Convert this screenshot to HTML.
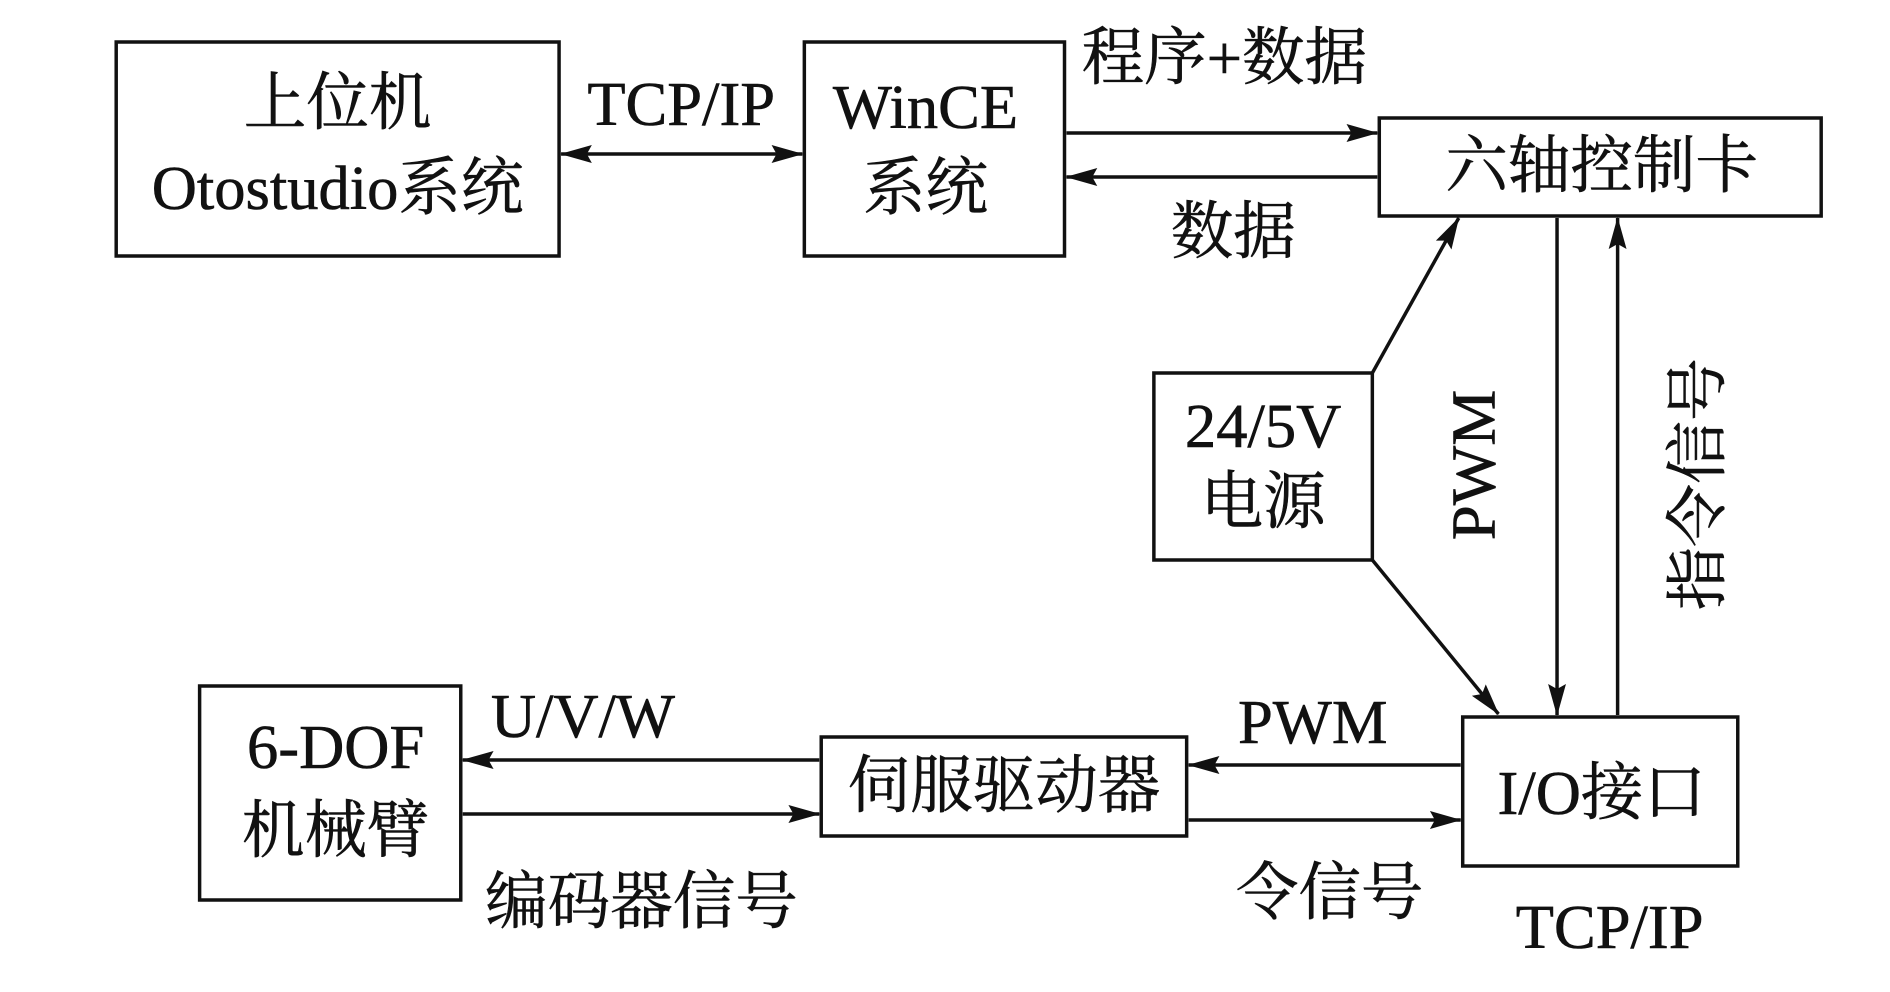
<!DOCTYPE html>
<html><head><meta charset="utf-8"><style>
html,body{margin:0;padding:0;background:#fff;}
svg{display:block;}
text{font-family:"Liberation Serif","Noto Serif CJK SC",serif;font-size:63px;fill:#111;stroke:#111;stroke-width:0.6px;}
</style></head><body>
<svg width="1890" height="992" viewBox="0 0 1890 992" xmlns="http://www.w3.org/2000/svg">
<defs>
<marker id="b" viewBox="0 0 32 18" refX="31" refY="9" markerWidth="32" markerHeight="18" orient="auto-start-reverse" markerUnits="userSpaceOnUse">
<path d="M0,0 L32,9 L0,18 L5,9 z" fill="#111"/>
</marker>
</defs>
<g transform="translate(2,0) scale(0.993,1)">
<g fill="none" stroke="#111" stroke-width="3.5">
<rect x="115" y="42" width="446" height="214"/>
<rect x="808" y="42" width="262" height="214"/>
<rect x="1387" y="118" width="445" height="98"/>
<rect x="1160" y="373" width="220" height="187"/>
<rect x="1471" y="717" width="277" height="149"/>
<rect x="825" y="737" width="368" height="99"/>
<rect x="199" y="686" width="263" height="214"/>
</g>
<g stroke="#111" stroke-width="3.5" fill="none">
<line x1="563" y1="154" x2="806" y2="154" marker-start="url(#b)" marker-end="url(#b)"/>
<line x1="1072" y1="133" x2="1385" y2="133" marker-end="url(#b)"/>
<line x1="1385" y1="177" x2="1072" y2="177" marker-end="url(#b)"/>
<line x1="1380" y1="373" x2="1467" y2="218" marker-end="url(#b)"/>
<line x1="1380" y1="560" x2="1507" y2="714" marker-end="url(#b)"/>
<line x1="1566" y1="218" x2="1566" y2="715" marker-end="url(#b)"/>
<line x1="1627" y1="715" x2="1627" y2="218" marker-end="url(#b)"/>
<line x1="1469" y1="765" x2="1195" y2="765" marker-end="url(#b)"/>
<line x1="1195" y1="820" x2="1469" y2="820" marker-end="url(#b)"/>
<line x1="823" y1="760" x2="464" y2="760" marker-end="url(#b)"/>
<line x1="464" y1="814" x2="823" y2="814" marker-end="url(#b)"/>
</g>
<g text-anchor="middle" dominant-baseline="central">
<text x="338" y="103">上位机</text>
<text x="338" y="188">Otostudio系统</text>
<text x="930" y="107">WinCE</text>
<text x="930" y="188">系统</text>
<text x="1611" y="166">六轴控制卡</text>
<text x="1270" y="426">24/5V</text>
<text x="1270" y="502">电源</text>
<text x="1611" y="793">I/O接口</text>
<text x="1009" y="786">伺服驱动器</text>
<text x="336" y="747">6-DOF</text>
<text x="336" y="831">机械臂</text>
<text x="684" y="104">TCP/IP</text>
<text x="1231" y="58">程序+数据</text>
<text x="1240" y="232">数据</text>
<text x="1320" y="722">PWM</text>
<text x="1337" y="893">令信号</text>
<text x="1619" y="927">TCP/IP</text>
<text x="585" y="716">U/V/W</text>
<text x="644" y="902">编码器信号</text>
<text transform="translate(1482,465) rotate(-90)">PWM</text>
<text transform="translate(1708,484) rotate(-90)">指令信号</text>
</g>
</g>
</svg>
</body></html>
